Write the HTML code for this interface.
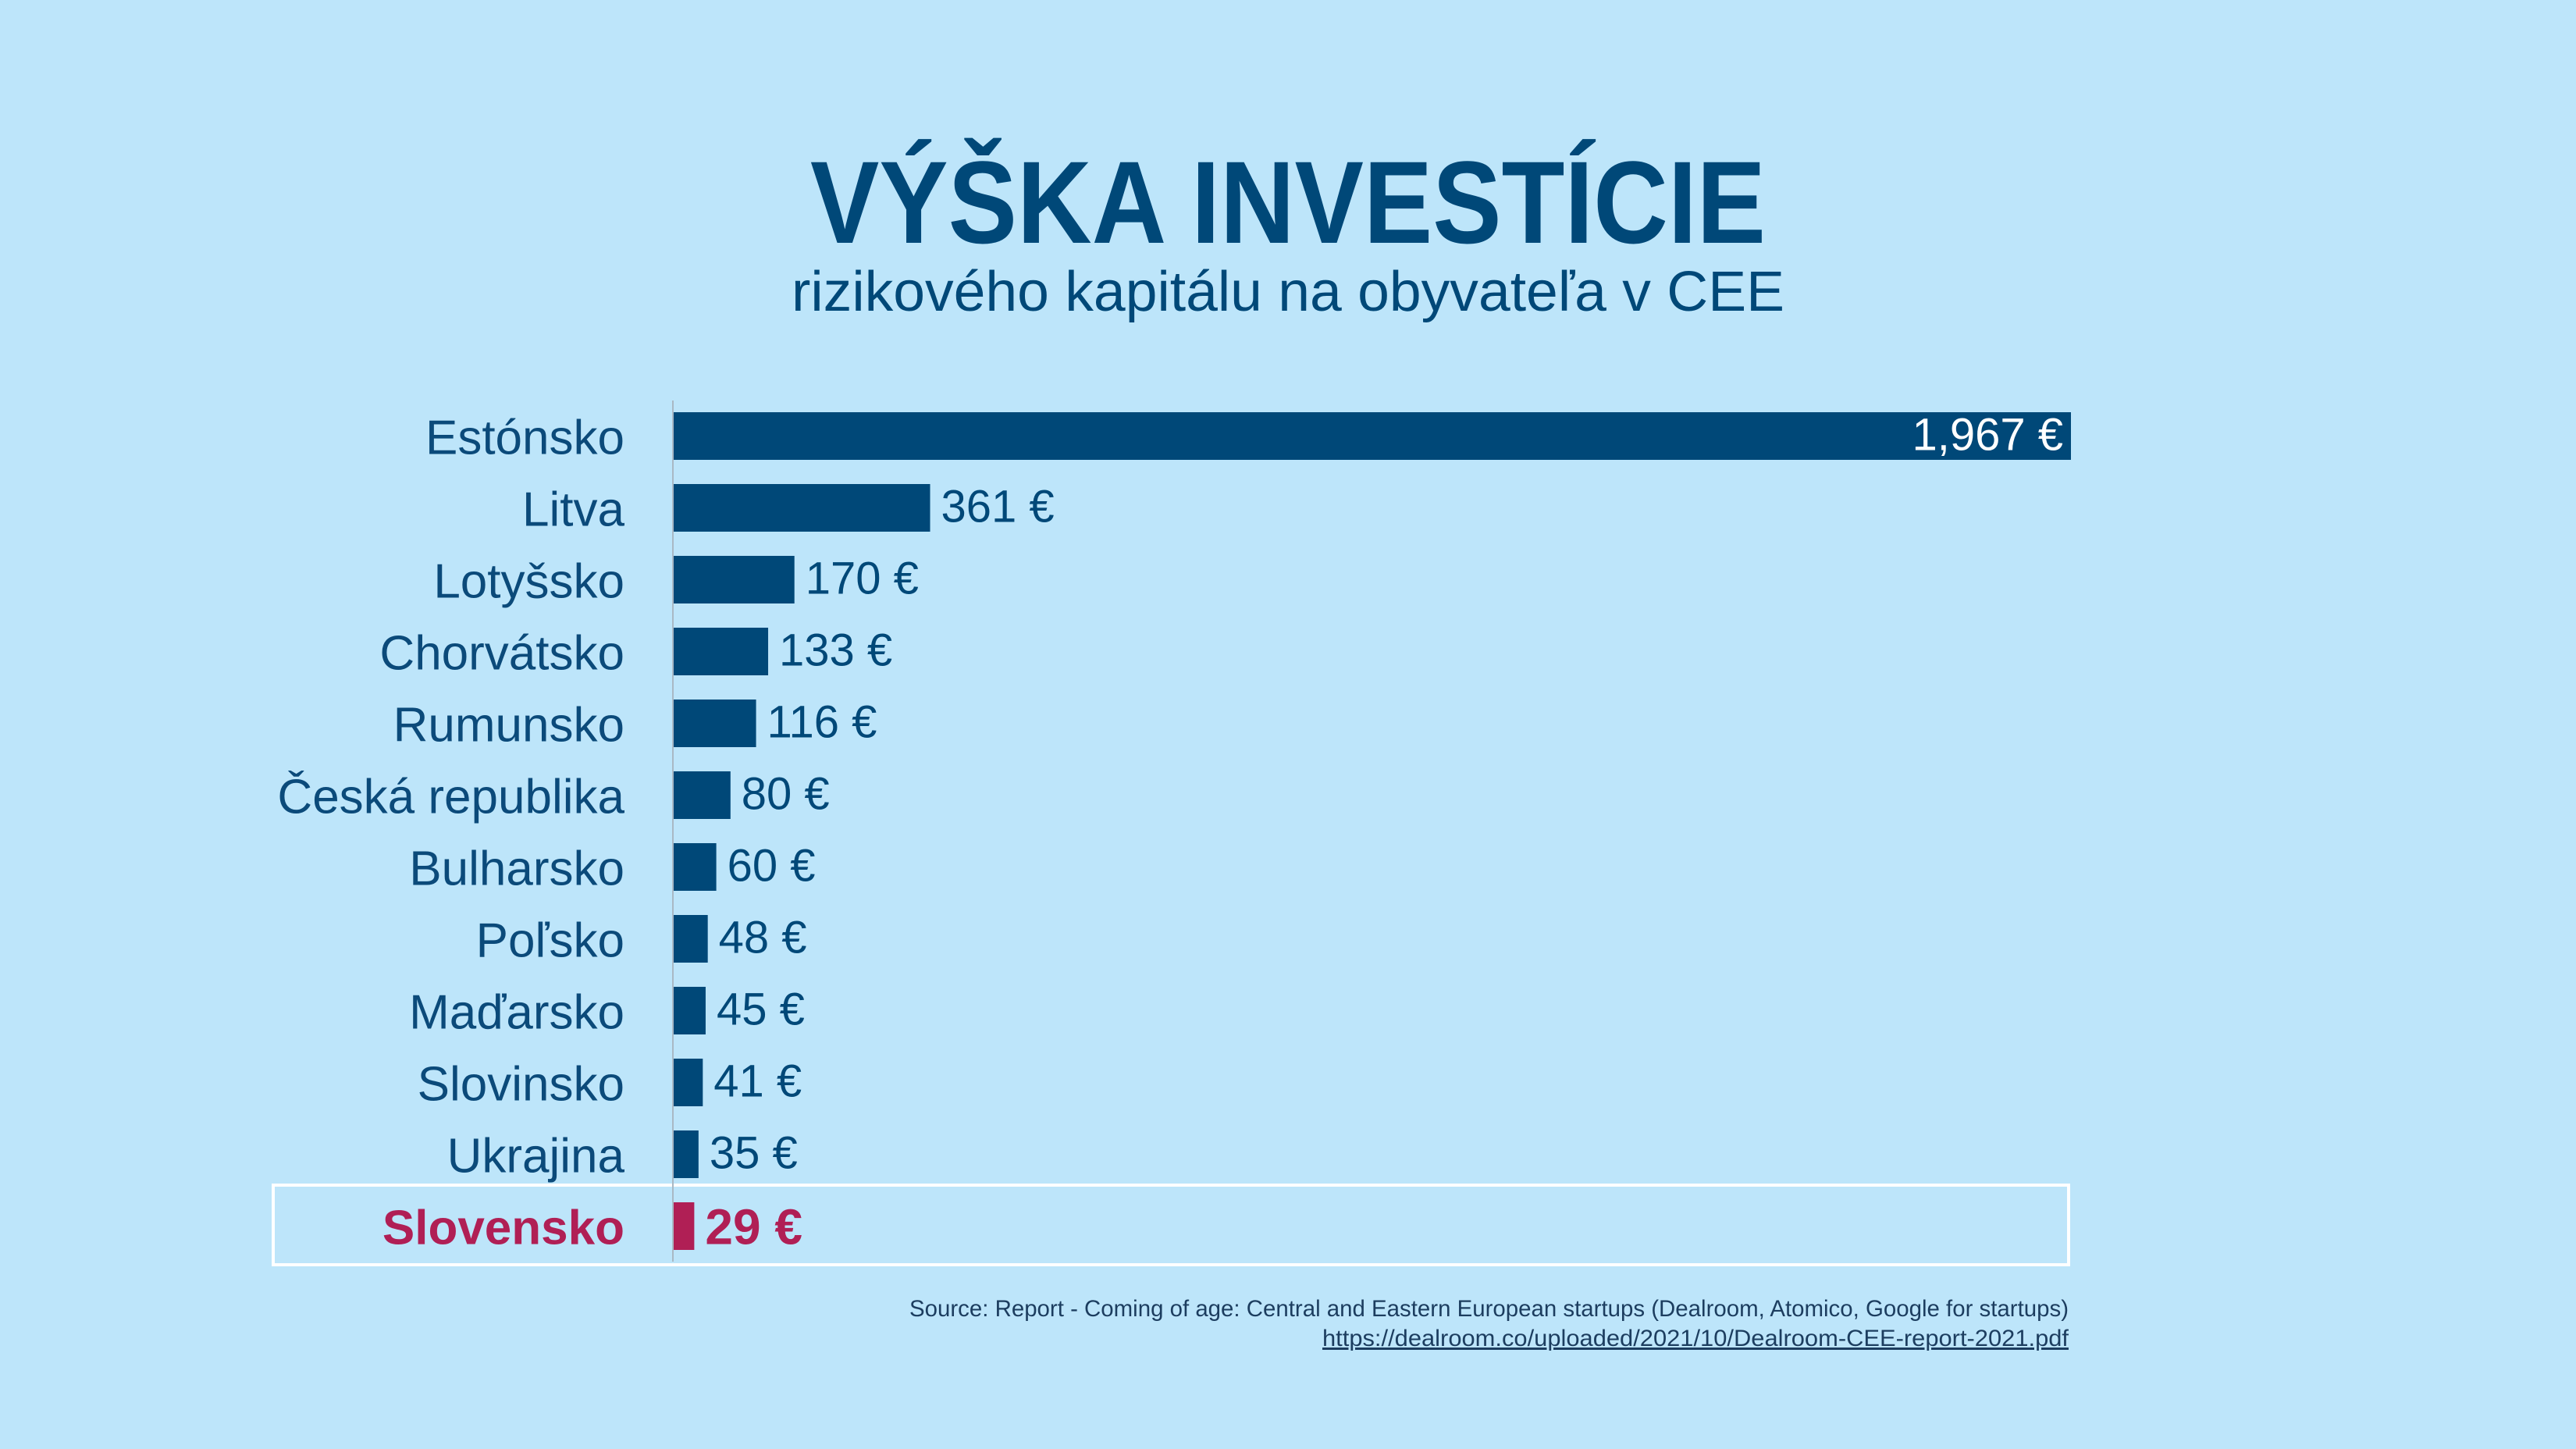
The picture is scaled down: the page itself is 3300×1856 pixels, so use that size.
<!DOCTYPE html>
<html><head><meta charset="utf-8"><style>
html,body{margin:0;padding:0;background:#bde5fa;}
svg{display:block;}
text{font-family:"Liberation Sans",sans-serif;}
</style></head><body>
<svg id="chart" width="3300" height="1856" viewBox="0 0 3300 1856" xmlns="http://www.w3.org/2000/svg">
<rect width="3300" height="1856" fill="#bde5fa"/>
<text x="1650" y="311" text-anchor="middle" font-size="150" font-weight="bold" fill="#004878" textLength="1224" lengthAdjust="spacingAndGlyphs">VÝŠKA INVESTÍCIE</text>
<text x="1650" y="398" text-anchor="middle" font-size="72" fill="#004878" textLength="1272" lengthAdjust="spacingAndGlyphs">rizikového kapitálu na obyvateľa v CEE</text>
<rect x="350" y="1518" width="2300" height="102" fill="none" stroke="#ffffff" stroke-width="4"/>
<line x1="862" y1="513" x2="862" y2="1616" stroke="#a9b8c4" stroke-width="2"/>
<g id="bars"></g>
<text x="2650" y="1686" text-anchor="end" font-size="30" fill="#1c3d5f" textLength="1485" lengthAdjust="spacingAndGlyphs">Source: Report - Coming of age: Central and Eastern European startups (Dealroom, Atomico, Google for startups)</text>
<text x="2650" y="1724" text-anchor="end" font-size="30" fill="#1c3d5f" text-decoration="underline" textLength="956" lengthAdjust="spacingAndGlyphs">https://dealroom.co/uploaded/2021/10/Dealroom-CEE-report-2021.pdf</text>
</svg>
<script>
const categories = ["Estónsko","Litva","Lotyšsko","Chorvátsko","Rumunsko","Česká republika","Bulharsko","Poľsko","Maďarsko","Slovinsko","Ukrajina","Slovensko"];
const values = [1967,361,170,133,116,80,60,48,45,41,35,29];
const valueLabels = ["1,967 €","361 €","170 €","133 €","116 €","80 €","60 €","48 €","45 €","41 €","35 €","29 €"];
const highlight = "Slovensko";

const NS = "http://www.w3.org/2000/svg";
const x0 = 863, xMax = 2653, vMax = 1967;
const xScale = v => x0 + (v / vMax) * (xMax - x0);
const rowTop = 528, pitch = 92, barH = 61;
const yScale = i => rowTop + i * pitch;
const g = document.getElementById("bars");
function mk(tag, attrs){const e=document.createElementNS(NS,tag);for(const k in attrs)e.setAttribute(k,attrs[k]);return e;}

categories.forEach((c,i)=>{
  const hi = c===highlight;
  const col = hi ? "#b01f55" : "#004878";
  const y = yScale(i), cy = y + barH/2;
  const xe = xScale(values[i]);
  const bar = mk("rect",{x:x0,y:y,width:Math.max(1,xe-x0),height:barH,fill:col});
  
  
  g.appendChild(bar);
  const lab = mk("text",{x:800,y:cy+23,"text-anchor":"end","font-size":62,fill:hi?"#b01f55":"#0b4a7a","font-weight":hi?"bold":"normal"});
  lab.textContent = c;
  
  
  g.appendChild(lab);
  const inside = (xe - x0) > 400;
  const vl = mk("text",{x: inside ? xe-10 : xe+14, y: cy+(hi?23:18), "text-anchor": inside?"end":"start","font-size":hi?64:58,fill: inside?"#ffffff":col,"font-weight":hi?"bold":"normal"});
  vl.textContent = valueLabels[i];
  
  
  g.appendChild(vl);
});
</script>
</body></html>
